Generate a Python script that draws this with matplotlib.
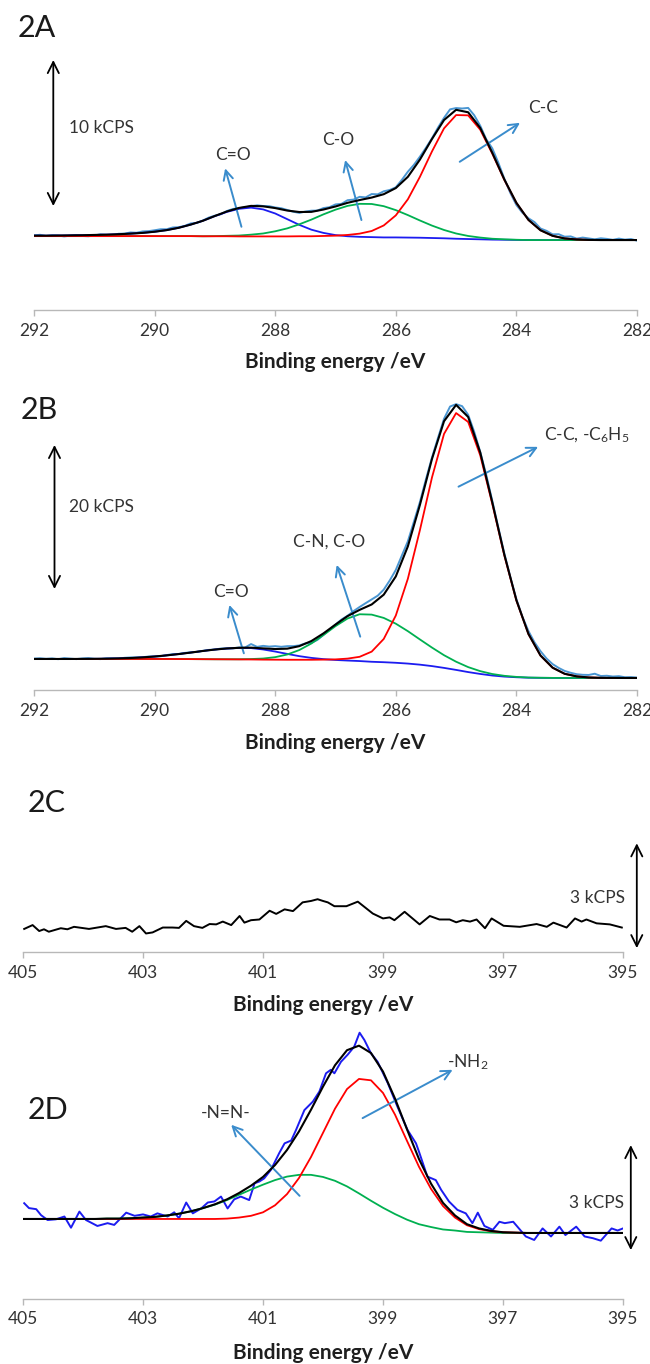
import numpy as np
import matplotlib
matplotlib.use("Agg")
import matplotlib.pyplot as plt

plt.rcParams["font.family"] = ["Lato", "DejaVu Sans"]
plt.rcParams["mathtext.default"] = "regular"

# =========================
# DATOS (kCPS)
# =========================
# rejillas de energía de enlace (eV)
e_c1s = np.linspace(292, 282, 51)
e_c1s_raw = np.linspace(292, 282, 101)
e_n1s = np.linspace(405, 395, 51)

# ---- 2A : C1s ----
a_raw = [0.32, 0.36, 0.28, 0.33, 0.31, 0.25, 0.30, 0.34, 0.28, 0.26,
         0.31, 0.39, 0.35, 0.28, 0.43, 0.44, 0.52, 0.50, 0.59, 0.61,
         0.67, 0.74, 0.74, 0.86, 0.88, 0.97, 1.14, 1.17, 1.34, 1.54,
         1.67, 1.77, 1.99, 2.13, 2.18, 2.24, 2.31, 2.38, 2.33, 2.32,
         2.23, 2.18, 2.06, 1.94, 1.86, 1.95, 2.01, 2.02, 2.19, 2.25,
         2.44, 2.48, 2.73, 2.77, 2.96, 2.92, 3.15, 3.13, 3.34, 3.43,
         3.61, 4.12, 4.68, 5.15, 5.71, 6.32, 6.97, 7.70, 8.37, 8.95,
         9.04, 9.01, 9.05, 8.55, 7.83, 6.90, 6.28, 5.30, 4.20, 3.22,
         2.40, 1.87, 1.49, 1.23, 0.79, 0.63, 0.39, 0.40, 0.23, 0.25,
         0.10, 0.17, 0.11, 0.05, 0.12, 0.08, 0.02, 0.10, 0.03, 0.07,
         -0.04]
a_fit = [0.30, 0.30, 0.31, 0.32, 0.33, 0.35, 0.37, 0.40, 0.44, 0.49,
         0.57, 0.68, 0.84, 1.06, 1.32, 1.65, 1.96, 2.20, 2.34, 2.31,
         2.19, 2.02, 1.92, 1.93, 2.09, 2.30, 2.55, 2.74, 2.91, 3.14,
         3.56, 4.33, 5.51, 6.92, 8.22, 8.92, 8.75, 7.68, 5.98, 4.15,
         2.55, 1.38, 0.67, 0.29, 0.11, 0.04, 0.01, 0.0, 0.0, 0.0, 0.0]
a_cc = [0.27, 0.27, 0.27, 0.27, 0.27, 0.27, 0.27, 0.27, 0.27, 0.27,
        0.27, 0.27, 0.27, 0.27, 0.26, 0.26, 0.26, 0.25, 0.25, 0.25,
        0.25, 0.25, 0.26, 0.26, 0.28, 0.30, 0.35, 0.44, 0.62, 1.00,
        1.69, 2.79, 4.33, 6.07, 7.65, 8.56, 8.54, 7.56, 5.92, 4.12,
        2.54, 1.38, 0.67, 0.29, 0.11, 0.04, 0.01, 0.0, 0.0, 0.0, 0.0]
a_co = [0.27, 0.27, 0.27, 0.27, 0.27, 0.27, 0.27, 0.27, 0.27, 0.27,
        0.27, 0.27, 0.27, 0.27, 0.26, 0.27, 0.29, 0.31, 0.37, 0.45,
        0.60, 0.80, 1.08, 1.40, 1.76, 2.08, 2.34, 2.48, 2.47, 2.32,
        2.05, 1.71, 1.34, 0.99, 0.69, 0.45, 0.28, 0.17, 0.09, 0.05,
        0.02, 0.0, 0.0, 0.0, 0.0, 0.0, 0.0, 0.0, 0.0, 0.0, 0.0]
a_cdo = [0.30, 0.30, 0.31, 0.32, 0.33, 0.35, 0.37, 0.40, 0.44, 0.49,
         0.57, 0.68, 0.84, 1.06, 1.32, 1.64, 1.93, 2.14, 2.22, 2.10,
         1.82, 1.43, 1.04, 0.71, 0.49, 0.34, 0.26, 0.22, 0.20, 0.18,
         0.18, 0.17, 0.16, 0.14, 0.12, 0.09, 0.07, 0.05, 0.03, 0.02,
         0.01, 0.0, 0.0, 0.0, 0.0, 0.0, 0.0, 0.0, 0.0, 0.0, 0.0]

# ---- 2B : C1s ----
b_raw = [2.69, 2.74, 2.66, 2.72, 2.61, 2.76, 2.69, 2.62, 2.71, 2.76,
         2.66, 2.62, 2.73, 2.72, 2.68, 2.80, 2.85, 2.85, 2.88, 2.98,
         3.00, 3.01, 3.18, 3.31, 3.34, 3.48, 3.56, 3.62, 3.77, 3.90,
         3.95, 4.09, 4.12, 4.12, 4.24, 4.23, 4.71, 4.32, 4.46, 4.36,
         4.42, 4.33, 4.42, 4.42, 4.52, 4.80, 4.88, 5.29, 5.99, 6.70,
         7.42, 8.12, 8.64, 9.29, 9.86, 10.39, 10.91, 11.43, 12.27, 13.55,
         15.00, 17.00, 18.98, 21.70, 24.44, 27.60, 30.62, 33.35, 36.00, 37.70,
         38.03, 37.75, 36.55, 34.20, 31.40, 28.20, 24.60, 20.90, 17.30, 14.00,
         10.95, 8.50, 6.51, 4.95, 3.72, 2.70, 1.93, 1.40, 0.98, 0.72,
         0.52, 0.44, 0.42, 0.59, 0.27, 0.31, 0.20, 0.25, 0.10, 0.12,
         0.05]
b_fit = [2.64, 2.64, 2.64, 2.64, 2.65, 2.66, 2.68, 2.72, 2.77, 2.86,
         2.98, 3.14, 3.32, 3.53, 3.75, 3.95, 4.10, 4.19, 4.21, 4.11,
         4.02, 4.07, 4.42, 5.13, 6.19, 7.42, 8.59, 9.46, 10.21, 11.57,
         14.10, 18.28, 24.04, 30.42, 35.66, 37.93, 36.25, 31.32, 24.39, 17.12,
         10.80, 6.11, 3.12, 1.43, 0.58, 0.22, 0.07, 0.02, 0.01, 0.0, 0.0]
b_cc = [2.64, 2.64, 2.64, 2.64, 2.64, 2.64, 2.64, 2.64, 2.64, 2.64,
        2.64, 2.64, 2.63, 2.62, 2.61, 2.60, 2.59, 2.58, 2.57, 2.55,
        2.54, 2.53, 2.53, 2.53, 2.55, 2.58, 2.69, 2.94, 3.66, 5.42,
        8.67, 13.78, 20.54, 27.85, 33.90, 36.79, 35.56, 30.93, 24.18, 17.01,
        10.75, 6.09, 3.11, 1.43, 0.58, 0.22, 0.07, 0.02, 0.01, 0.0, 0.0]
b_cn = [2.64, 2.64, 2.64, 2.64, 2.64, 2.64, 2.64, 2.64, 2.64, 2.64,
        2.64, 2.64, 2.63, 2.62, 2.61, 2.60, 2.60, 2.60, 2.63, 2.70,
        2.89, 3.26, 3.88, 4.79, 5.96, 7.20, 8.26, 8.85, 8.80, 8.34,
        7.54, 6.50, 5.35, 4.22, 3.16, 2.26, 1.51, 0.95, 0.55, 0.30,
        0.15, 0.06, 0.03, 0.01, 0.0, 0.0, 0.0, 0.0, 0.0, 0.0, 0.0]
b_cdo = [2.64, 2.64, 2.64, 2.64, 2.65, 2.66, 2.68, 2.72, 2.77, 2.86,
         2.98, 3.14, 3.32, 3.53, 3.75, 3.95, 4.09, 4.17, 4.15, 3.96,
         3.67, 3.34, 3.03, 2.79, 2.62, 2.50, 2.42, 2.35, 2.25, 2.19,
         2.11, 2.00, 1.85, 1.65, 1.40, 1.12, 0.82, 0.56, 0.34, 0.19,
         0.10, 0.04, 0.02, 0.01, 0.0, 0.0, 0.0, 0.0, 0.0, 0.0, 0.0]

# ---- 2C : N1s (sin componente) ----
c_energy = [404.98, 404.84, 404.73, 404.65, 404.57, 404.37, 404.26, 404.15, 403.90, 403.62,
            403.45, 403.29, 403.18, 403.06, 402.95, 402.84, 402.67, 402.51, 402.40, 402.28,
            402.15, 402.01, 401.89, 401.78, 401.67, 401.53, 401.39, 401.31, 401.20, 401.06,
            400.89, 400.78, 400.64, 400.50, 400.34, 400.20, 400.09, 400.00, 399.92, 399.81,
            399.61, 399.42, 399.17, 399.00, 398.89, 398.81, 398.64, 398.39, 398.22, 398.06,
            397.89, 397.78, 397.67, 397.55, 397.44, 397.30, 397.19, 396.99, 396.72, 396.44,
            396.27, 396.16, 395.94, 395.80, 395.69, 395.61, 395.44, 395.22, 395.02]
c_counts = [0.66, 0.77, 0.60, 0.65, 0.58, 0.68, 0.65, 0.72, 0.66, 0.74,
            0.66, 0.69, 0.58, 0.74, 0.53, 0.56, 0.70, 0.70, 0.69, 0.89,
            0.74, 0.69, 0.80, 0.79, 0.87, 0.77, 1.03, 0.84, 0.91, 0.93,
            1.18, 1.09, 1.22, 1.17, 1.42, 1.46, 1.51, 1.46, 1.42, 1.31,
            1.31, 1.44, 1.10, 0.96, 0.99, 0.91, 1.15, 0.79, 1.03, 0.93,
            0.93, 0.85, 0.91, 0.87, 0.93, 0.68, 0.96, 0.75, 0.72, 0.80,
            0.72, 0.84, 0.70, 0.96, 0.87, 0.93, 0.82, 0.79, 0.70]

# ---- 2D : N1s ----
d_energy = [404.98, 404.90, 404.78, 404.70, 404.59, 404.45, 404.31, 404.20, 404.06, 403.95,
            403.76, 403.59, 403.48, 403.28, 403.14, 403.00, 402.87, 402.76, 402.59, 402.48,
            402.40, 402.28, 402.17, 402.03, 401.92, 401.81, 401.70, 401.59, 401.48, 401.37,
            401.23, 401.14, 401.06, 400.98, 400.87, 400.84, 400.73, 400.64, 400.53, 400.45,
            400.31, 400.17, 400.06, 399.95, 399.87, 399.81, 399.70, 399.59, 399.48, 399.39,
            399.31, 399.20, 399.09, 398.92, 398.76, 398.59, 398.45, 398.40, 398.26, 398.12,
            398.03, 397.90, 397.76, 397.62, 397.51, 397.42, 397.31, 397.17, 397.06, 396.97,
            396.83, 396.62, 396.48, 396.34, 396.20, 396.06, 395.96, 395.78, 395.64, 395.50,
            395.37, 395.19, 395.09, 395.00]
d_raw = [0.85, 0.71, 0.68, 0.51, 0.37, 0.39, 0.47, 0.15, 0.61, 0.37,
         0.20, 0.28, 0.23, 0.58, 0.49, 0.53, 0.47, 0.56, 0.47, 0.59,
         0.42, 0.87, 0.56, 0.70, 0.87, 0.90, 1.04, 0.70, 0.96, 1.04,
         0.94, 1.42, 1.47, 1.56, 1.80, 1.90, 2.28, 2.56, 2.64, 2.94,
         3.51, 3.75, 4.04, 4.56, 4.66, 4.56, 4.89, 5.09, 5.32, 5.72,
         5.51, 5.13, 4.89, 4.28, 3.61, 2.94, 2.56, 2.32, 1.61, 1.51,
         1.23, 0.90, 0.66, 0.56, 0.28, 0.58, 0.20, 0.09, 0.32, 0.28,
         0.32, -0.10, -0.20, 0.13, -0.10, 0.18, -0.06, 0.18, -0.10, -0.15,
         -0.22, 0.13, 0.07, 0.13]
d_fit = [0.40, 0.40, 0.40, 0.40, 0.40, 0.40, 0.40, 0.41, 0.41, 0.42,
         0.44, 0.46, 0.50, 0.55, 0.62, 0.71, 0.82, 0.96, 1.14, 1.35,
         1.60, 1.94, 2.37, 2.90, 3.52, 4.18, 4.79, 5.22, 5.35, 5.14,
         4.61, 3.84, 2.96, 2.11, 1.41, 0.86, 0.50, 0.25, 0.13, 0.06,
         0.02, 0.01, 0.0, 0.0, 0.0, 0.0, 0.0, 0.0, 0.0, 0.0, 0.0]
d_nh2 = [0.40, 0.40, 0.40, 0.40, 0.40, 0.40, 0.40, 0.40, 0.40, 0.40,
         0.40, 0.40, 0.40, 0.40, 0.40, 0.40, 0.40, 0.41, 0.44, 0.49,
         0.59, 0.79, 1.11, 1.57, 2.17, 2.86, 3.55, 4.11, 4.40, 4.36,
         4.00, 3.38, 2.63, 1.89, 1.26, 0.77, 0.44, 0.22, 0.11, 0.05,
         0.02, 0.01, 0.0, 0.0, 0.0, 0.0, 0.0, 0.0, 0.0, 0.0, 0.0]
d_nn = [0.40, 0.40, 0.40, 0.40, 0.40, 0.40, 0.40, 0.41, 0.41, 0.42,
        0.44, 0.46, 0.50, 0.55, 0.62, 0.71, 0.81, 0.94, 1.09, 1.24,
        1.38, 1.51, 1.61, 1.66, 1.66, 1.60, 1.49, 1.33, 1.13, 0.92,
        0.72, 0.54, 0.38, 0.25, 0.17, 0.10, 0.07, 0.03, 0.02, 0.01,
        0.0, 0.0, 0.0, 0.0, 0.0, 0.0, 0.0, 0.0, 0.0, 0.0, 0.0]

# =========================
# ESTILO
# =========================
W, H = 650, 1364
RAW_BLUE = "#4a96d2"
ARROW_BLUE = "#3a8ccc"
RED = "#ff0000"
GREEN = "#00b050"
BLUE = "#1c1cf0"
AXIS_GREY = "#b8b8b8"
TEXT = "#333333"

fig = plt.figure(figsize=(W / 100, H / 100), dpi=100)
fig.patch.set_facecolor("white")


def panel(left, right, bottom, top, xlim, ylim, ticks):
    ax = fig.add_axes([left / W, 1 - bottom / H, (right - left) / W, (bottom - top) / H])
    ax.set_xlim(xlim)
    ax.set_ylim(ylim)
    for s in ["left", "right", "top"]:
        ax.spines[s].set_visible(False)
    ax.spines["bottom"].set_color(AXIS_GREY)
    ax.spines["bottom"].set_linewidth(1.0)
    ax.set_yticks([])
    ax.set_xticks(ticks)
    ax.set_xticklabels([str(t) for t in ticks])
    ax.tick_params(axis="x", direction="out", length=4, width=1.0, color=AXIS_GREY,
                   labelsize=12.5, labelcolor=TEXT, pad=5)
    ax.patch.set_alpha(0)
    return ax


def double_arrow(ax, x, y0, y1):
    ax.annotate("", xy=(x, y1), xytext=(x, y0), annotation_clip=False,
                arrowprops=dict(arrowstyle="<->", color="black", lw=1.3,
                                mutation_scale=20, shrinkA=0, shrinkB=0))


def label_arrow(ax, start, end):
    ax.annotate("", xy=end, xytext=start, annotation_clip=False,
                arrowprops=dict(arrowstyle="->", color=ARROW_BLUE, lw=1.4,
                                mutation_scale=17, shrinkA=0, shrinkB=0))


def xlabel(ax_center_px, y_px):
    fig.text(ax_center_px / W, 1 - y_px / H, "Binding energy /eV", ha="center", va="center",
             fontsize=15, fontweight="bold", color="#1f1f1f")


LBL = 12.5

# =========================
# 2A
# =========================
ax = panel(34, 637, 310, 40, (292, 282), (-4.79, 13.70), [292, 290, 288, 286, 284, 282])
ax.plot(e_c1s_raw, a_raw, color=RAW_BLUE, lw=1.4, zorder=2)
ax.plot(e_c1s, a_cdo, color=BLUE, lw=1.3, zorder=3)
ax.plot(e_c1s, a_co, color=GREEN, lw=1.3, zorder=3)
ax.plot(e_c1s, a_cc, color=RED, lw=1.3, zorder=3)
ax.plot(e_c1s, a_fit, color="black", lw=1.5, zorder=4)
double_arrow(ax, 291.68, 2.33, 12.33)
ax.text(291.42, 7.67, "10 kCPS", ha="left", va="center", fontsize=LBL, color=TEXT)
ax.text(288.70, 5.82, "C=O", ha="center", va="center", fontsize=LBL, color=TEXT)
label_arrow(ax, (288.56, 0.91), (288.83, 4.91))
ax.text(286.95, 6.85, "C-O", ha="center", va="center", fontsize=LBL, color=TEXT)
label_arrow(ax, (286.57, 1.37), (286.84, 5.48))
ax.text(283.56, 9.02, "C-C", ha="center", va="center", fontsize=LBL, color=TEXT)
label_arrow(ax, (284.94, 5.36), (283.94, 8.03))
fig.text(18 / W, 1 - 28 / H, "2A", ha="left", va="center", fontsize=22, color="#1a1a1a")
xlabel(335, 362)

# =========================
# 2B
# =========================
ax = panel(34, 637, 690, 395, (292, 282), (-1.67, 39.3), [292, 290, 288, 286, 284, 282])
ax.plot(e_c1s_raw, b_raw, color=RAW_BLUE, lw=1.4, zorder=2)
ax.plot(e_c1s, b_cdo, color=BLUE, lw=1.3, zorder=3)
ax.plot(e_c1s, b_cn, color=GREEN, lw=1.3, zorder=3)
ax.plot(e_c1s, b_cc, color=RED, lw=1.3, zorder=3)
ax.plot(e_c1s, b_fit, color="black", lw=1.5, zorder=4)
double_arrow(ax, 291.66, 12.36, 32.36)
ax.text(291.42, 23.75, "20 kCPS", ha="left", va="center", fontsize=LBL, color=TEXT)
ax.text(288.74, 11.99, "C=O", ha="center", va="center", fontsize=LBL, color=TEXT)
label_arrow(ax, (288.52, 3.43), (288.76, 10.14))
ax.text(287.10, 18.9, "C-N, C-O", ha="center", va="center", fontsize=LBL, color=TEXT)
label_arrow(ax, (286.59, 5.74), (286.98, 15.7))
ax.text(283.55, 33.75, "C-C, -C$_6$H$_5$", ha="left", va="center", fontsize=LBL, color=TEXT)
label_arrow(ax, (284.96, 26.57), (283.64, 32.1))
fig.text(21 / W, 1 - 410 / H, "2B", ha="left", va="center", fontsize=22, color="#1a1a1a")
xlabel(335, 743)

# =========================
# 2C
# =========================
ax = panel(23, 623, 952, 830, (405, 395), (0, 3.49), [405, 403, 401, 399, 397, 395])
ax.plot(c_energy, c_counts, color="black", lw=1.4, zorder=3)
double_arrow(ax, 394.77, 0.11, 3.11)
ax.text(394.97, 1.54, "3 kCPS", ha="right", va="center", fontsize=LBL, color=TEXT)
fig.text(28 / W, 1 - 803 / H, "2C", ha="left", va="center", fontsize=22, color="#1a1a1a")
xlabel(323, 1005)

# =========================
# 2D
# =========================
ax = panel(23, 623, 1299, 1025, (405, 395), (-1.886, 5.94), [405, 403, 401, 399, 397, 395])
ax.plot(d_energy, d_raw, color=BLUE, lw=1.4, zorder=2)
ax.plot(e_n1s, d_nn, color=GREEN, lw=1.3, zorder=3)
ax.plot(e_n1s, d_nh2, color=RED, lw=1.3, zorder=3)
ax.plot(e_n1s, d_fit, color="black", lw=1.5, zorder=4)
double_arrow(ax, 394.87, -0.49, 2.51)
ax.text(394.98, 0.86, "3 kCPS", ha="right", va="center", fontsize=LBL, color=TEXT)
ax.text(401.62, 3.42, "-N=N-", ha="center", va="center", fontsize=LBL, color=TEXT)
label_arrow(ax, (400.39, 1.06), (401.53, 3.09))
ax.text(397.59, 4.89, "-NH$_2$", ha="center", va="center", fontsize=LBL, color=TEXT)
label_arrow(ax, (399.34, 3.28), (397.84, 4.66))
fig.text(28 / W, 1 - 1110 / H, "2D", ha="left", va="center", fontsize=22, color="#1a1a1a")
xlabel(323, 1353)

fig.savefig("out.png", dpi=100, facecolor="white")
